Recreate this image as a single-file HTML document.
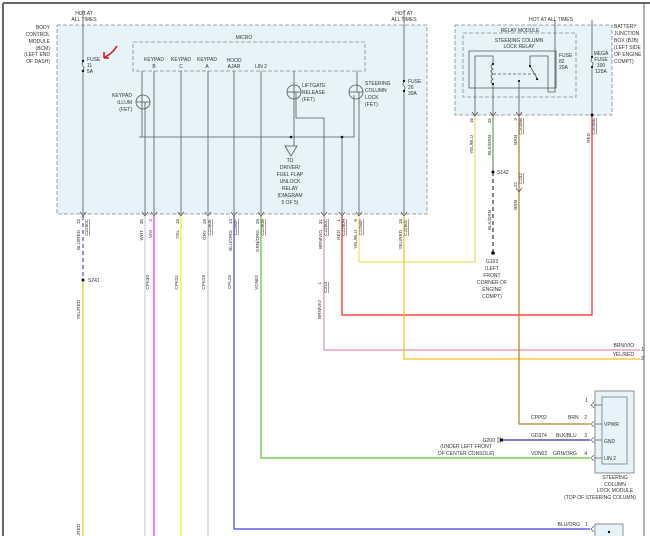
<!DOCTYPE html>
<html><head><meta charset="utf-8"><style>
html,body{margin:0;padding:0;background:#fff;}
svg{display:block;font-family:"Liberation Sans",sans-serif;font-size:5px;fill:#333;}
text{fill:#333;}
</style></head><body>
<svg width="650" height="536" viewBox="0 0 650 536" xmlns="http://www.w3.org/2000/svg">
<rect x="0" y="0" width="650" height="536" fill="#fff"/>
<!-- page border -->
<line x1="3" y1="3" x2="650" y2="3" stroke="#666" stroke-width="2"/>
<line x1="3" y1="3" x2="3" y2="536" stroke="#666" stroke-width="2"/>
<line x1="644" y1="3" x2="644" y2="536" stroke="#666" stroke-width="1"/>

<!-- BCM box -->
<rect x="57" y="25" width="370" height="189" fill="#e6f4fa" stroke="#888" stroke-dasharray="4,2" stroke-width="0.8"/>
<rect x="133" y="42" width="232" height="29" fill="#e6f4fa" stroke="#888" stroke-dasharray="4,2" stroke-width="0.8"/>
<text x="244" y="39" text-anchor="middle">MICRO</text>
<g text-anchor="middle">
<text x="84" y="15">HOT AT</text><text x="84" y="21">ALL TIMES</text>
<text x="404" y="15">HOT AT</text><text x="404" y="21">ALL TIMES</text>
</g>
<g text-anchor="end">
<text x="50" y="29">BODY</text><text x="50" y="36">CONTROL</text><text x="50" y="43">MODULE</text><text x="50" y="50">(BCM)</text><text x="50" y="56">(LEFT END</text><text x="50" y="63">OF DASH)</text>
</g>
<!-- red arrow -->
<path d="M117,46 Q112,54 105,57" stroke="#e01010" stroke-width="1.5" fill="none"/>
<path d="M104,58 L104,52 M104,58 L109,58" stroke="#e01010" stroke-width="1.5" fill="none"/>

<!-- internal wires (gray) -->
<g stroke="#555" stroke-width="0.8" fill="none">
<line x1="83" y1="25" x2="83" y2="62"/><path d="M83,62 q-2,2 0,4 q2,2 0,4"/><line x1="83" y1="70" x2="83" y2="214"/>
<line x1="83" y1="10" x2="83" y2="25"/>
<line x1="404" y1="10" x2="404" y2="82"/><path d="M404,82 q-2,2 0,4 q2,2 0,4"/><line x1="404" y1="90" x2="404" y2="214"/>
<line x1="142" y1="71" x2="142" y2="137"/>
<line x1="145" y1="102" x2="145" y2="214"/>
<line x1="154" y1="71" x2="154" y2="214"/>
<line x1="181" y1="71" x2="181" y2="214"/>
<line x1="208" y1="71" x2="208" y2="214"/>
<line x1="234" y1="71" x2="234" y2="214"/>
<line x1="261" y1="71" x2="261" y2="214"/>
<line x1="294" y1="71" x2="294" y2="146"/>
<path d="M296,92 L296,118 L324,118 L324,214"/>
<line x1="357" y1="71" x2="357" y2="92"/>
<path d="M359,92 L359,214"/>
<path d="M139,137 L354,137 L354,95"/>
<line x1="342" y1="137" x2="342" y2="214"/>
<circle cx="143" cy="102" r="7"/><line x1="136" y1="102" x2="150" y2="102"/>
<circle cx="294" cy="92" r="7"/><line x1="287" y1="92" x2="301" y2="92"/>
<circle cx="356" cy="92" r="7"/><line x1="349" y1="92" x2="363" y2="92"/>
<path d="M285,146 L297,146 L291,156 Z"/>
</g>
<circle cx="83" cy="61" r="1.2" fill="#111"/><circle cx="83" cy="71" r="1.2" fill="#111"/>
<circle cx="404" cy="81" r="1.2" fill="#111"/><circle cx="404" cy="91" r="1.2" fill="#111"/>
<circle cx="291" cy="137" r="1.3" fill="#111"/><circle cx="342" cy="137" r="1.3" fill="#111"/>
<g>
<text x="87" y="61">FUSE</text><text x="87" y="67">11</text><text x="87" y="73">5A</text>
<text x="408" y="83">FUSE</text><text x="408" y="89">26</text><text x="408" y="95">30A</text>
</g>
<g text-anchor="middle">
<text x="154" y="61">KEYPAD</text><text x="154" y="68">B</text>
<text x="181" y="61">KEYPAD</text><text x="181" y="68">C</text>
<text x="207" y="61">KEYPAD</text><text x="207" y="68">A</text>
<text x="234" y="62">HOOD</text><text x="234" y="68">AJAR</text>
<text x="261" y="68">LIN 2</text>
<text x="290" y="162">TO</text><text x="290" y="169">DRIVER/</text><text x="290" y="176">FUEL FLAP</text><text x="290" y="183">UNLOCK</text><text x="290" y="190">RELAY</text><text x="290" y="197">(DIAGRAM</text><text x="290" y="204">5 OF 5)</text>
</g>
<g text-anchor="end"><text x="132" y="97">KEYPAD</text><text x="132" y="104">ILLUM</text><text x="132" y="111">(FET)</text></g>
<text x="302" y="87">LIFTGATE</text><text x="302" y="94">RELEASE</text><text x="302" y="101">(FET)</text>
<text x="365" y="85">STEERING</text><text x="365" y="92">COLUMN</text><text x="365" y="99">LOCK</text><text x="365" y="106">(FET)</text>

<!-- connectors at bottom of BCM -->
<g stroke="#555" stroke-width="0.7" fill="none">
<path d="M80,212 L83,216 L86,212 M142,212 L145,216 L148,212 M151,212 L154,216 L157,212 M178,212 L181,216 L184,212 M205,212 L208,216 L211,212 M231,212 L234,216 L237,212 M258,212 L261,216 L264,212 M321,212 L324,216 L327,212 M339,212 L342,216 L345,212 M356,212 L359,216 L362,212 M401,212 L404,216 L407,212"/>
</g>

<!-- external wires -->
<g fill="none" stroke-width="1.2">
<line x1="83" y1="216" x2="83" y2="280" stroke="#4a4aff" stroke-dasharray="4,3"/>
<line x1="83" y1="280" x2="83" y2="536" stroke="#f0c020"/>
<line x1="145" y1="216" x2="145" y2="536" stroke="#d0d0d0"/>
<line x1="154" y1="216" x2="154" y2="536" stroke="#ff20ff"/>
<line x1="181" y1="216" x2="181" y2="536" stroke="#f0f020"/>
<line x1="208" y1="216" x2="208" y2="536" stroke="#c8c8c8"/>
<path d="M234,216 L234,529 L590,529" stroke="#4040ff"/>
<path d="M261,216 L261,458 L590,458" stroke="#60c030"/>
<path d="M324,216 L324,350 L640,350" stroke="#e890b0"/>
<path d="M342,216 L342,315 L592,315 L592,115" stroke="#ff2020"/>
<path d="M359,216 L359,262 L475,262 L475,115" stroke="#f0e060"/>
<path d="M404,216 L404,359 L640,359" stroke="#ffc010"/>
<line x1="493" y1="115" x2="493" y2="172" stroke="#60a060"/>
<line x1="493" y1="172" x2="493" y2="253" stroke="#333" stroke-dasharray="4,3"/>
<path d="M519,115 L519,424 L590,424" stroke="#b08020"/>
<line x1="502" y1="440" x2="590" y2="440" stroke="#3030b0"/>
</g>
<circle cx="83" cy="280" r="1.5" fill="#111"/><text x="88" y="282">S241</text>
<circle cx="493" cy="172" r="1.5" fill="#111"/><text x="497" y="174">S142</text>
<circle cx="493" cy="253" r="1.8" fill="#111"/>
<g text-anchor="middle"><text x="492" y="263">G103</text><text x="492" y="270">(LEFT</text><text x="492" y="277">FRONT</text><text x="492" y="284">CORNER OF</text><text x="492" y="291">ENGINE</text><text x="492" y="298">COMPT)</text></g>

<!-- rotated labels -->
<g font-size="4.6">
<g text-anchor="end">
<text transform="translate(80,219) rotate(-90)">15</text>
<text transform="translate(80,230) rotate(-90)">BLU/RED</text>
<text transform="translate(143,219) rotate(-90)">35</text><text transform="translate(143,230) rotate(-90)">WHT</text>
<text transform="translate(152,219) rotate(-90)">2</text><text transform="translate(152,230) rotate(-90)">VIO</text>
<text transform="translate(179,219) rotate(-90)">15</text><text transform="translate(179,230) rotate(-90)">YEL</text>
<text transform="translate(206,219) rotate(-90)">28</text><text transform="translate(206,230) rotate(-90)">GRY</text>
<text transform="translate(232,219) rotate(-90)">14</text><text transform="translate(232,230) rotate(-90)">BLU/ORG</text>
<text transform="translate(259,219) rotate(-90)">29</text><text transform="translate(259,230) rotate(-90)">GRN/ORG</text>
<text transform="translate(322,219) rotate(-90)">31</text><text transform="translate(322,230) rotate(-90)">BRN/VIO</text>
<text transform="translate(340,219) rotate(-90)">1</text><text transform="translate(340,230) rotate(-90)">RED</text>
<text transform="translate(357,219) rotate(-90)">9</text><text transform="translate(357,230) rotate(-90)">YEL/BLU</text>
<text transform="translate(402,219) rotate(-90)">18</text><text transform="translate(402,230) rotate(-90)">YEL/RED</text>
<text transform="translate(80,300) rotate(-90)">YEL/RED</text>
<text transform="translate(80,524) rotate(-90)">YEL/RED</text>
<text transform="translate(149,275) rotate(-90)">CPK30</text>
<text transform="translate(178,275) rotate(-90)">CPK31</text>
<text transform="translate(205,275) rotate(-90)">CPK29</text>
<text transform="translate(231,275) rotate(-90)">CPL25</text>
<text transform="translate(258,275) rotate(-90)">VDN02</text>
<text transform="translate(321,282) rotate(-90)">1</text>
<text transform="translate(321,300) rotate(-90)">BRN/VIO</text>
<text transform="translate(473,118) rotate(-90)">16</text><text transform="translate(473,135) rotate(-90)">YEL/BLU</text>
<text transform="translate(491,118) rotate(-90)">25</text><text transform="translate(491,135) rotate(-90)">BLK/GRN</text>
<text transform="translate(491,210) rotate(-90)">BLK/GRN</text>
<text transform="translate(517,118) rotate(-90)">3</text><text transform="translate(517,135) rotate(-90)">BRN</text>
<text transform="translate(517,182) rotate(-90)">22</text><text transform="translate(517,200) rotate(-90)">BRN</text>
<text transform="translate(590,133) rotate(-90)">RED</text>
</g>
<g text-decoration="underline" text-anchor="end">
<text transform="translate(88,219) rotate(-90)">C2280C</text>
<text transform="translate(211,219) rotate(-90)">C2280E</text>
<text transform="translate(237,219) rotate(-90)">C2280F</text>
<text transform="translate(264,219) rotate(-90)">C2280B</text>
<text transform="translate(327,219) rotate(-90)">C2280C</text>
<text transform="translate(345,219) rotate(-90)">C2280H</text>
<text transform="translate(362,219) rotate(-90)">C2280F</text>
<text transform="translate(407,219) rotate(-90)">C2280C</text>
<text transform="translate(327,282) rotate(-90)">C314</text>
<text transform="translate(522,118) rotate(-90)">C1035B</text>
<text transform="translate(522,173) rotate(-90)">C232</text>
<text transform="translate(595,118) rotate(-90)">C1035E</text>
</g>
</g>

<!-- Relay module / BJB -->
<rect x="455" y="25" width="157" height="90" fill="#e6f4fa" stroke="#888" stroke-dasharray="4,2" stroke-width="0.8"/>
<rect x="463" y="33" width="113" height="64" fill="none" stroke="#888" stroke-dasharray="4,2" stroke-width="0.8"/>
<g text-anchor="middle"><text x="520" y="32">RELAY MODULE</text><text x="519" y="42">STEERING COLUMN</text><text x="519" y="48">LOCK RELAY</text></g>
<text x="551" y="21" text-anchor="middle">HOT AT ALL TIMES</text>
<g stroke="#555" stroke-width="0.8" fill="none">
<path d="M469,51 L556,51 L556,88 L469,88 Z"/>
<path d="M475,115 L475,56 L493,56 L493,64 M493,84 L493,115"/>
<path d="M493,64 q-4,2.5 0,5 q-4,2.5 0,5 q-4,2.5 0,5 q-4,2.5 0,5"/>
<path d="M548,92 L555,92 L555,20 M548,92 L548,56 L530,56 L530,66 L538,80"/>
<line x1="493" y1="74" x2="538" y2="74" stroke-dasharray="3,2"/>
<line x1="519" y1="81" x2="519" y2="115"/>
<line x1="592" y1="20" x2="592" y2="58"/><path d="M592,58 q-2,2 0,4 q2,2 0,4"/><line x1="592" y1="66" x2="592" y2="115"/>
<path d="M472,112 L475,116 L478,112 M490,112 L493,116 L496,112 M516,112 L519,116 L522,112 M516,188 L519,192 L522,188"/>
</g>
<circle cx="493" cy="64" r="1.1" fill="#111"/><circle cx="493" cy="84" r="1.1" fill="#111"/>
<circle cx="530" cy="66" r="1.1" fill="#111"/><circle cx="537" cy="79" r="1.1" fill="#111"/><circle cx="519" cy="81" r="1.1" fill="#111"/>
<circle cx="592" cy="57" r="1.1" fill="#111"/><circle cx="592" cy="67" r="1.1" fill="#111"/><circle cx="592" cy="115" r="1.5" fill="#111"/>
<text x="559" y="57">FUSE</text><text x="559" y="63">82</text><text x="559" y="69">20A</text>
<g text-anchor="middle"><text x="601" y="55">MEGA</text><text x="601" y="61">FUSE</text><text x="601" y="67">100</text><text x="601" y="73">125A</text></g>
<text x="614" y="28">BATTERY</text><text x="614" y="35">JUNCTION</text><text x="614" y="42">BOX (BJB)</text><text x="614" y="49">(LEFT SIDE</text><text x="614" y="56">OF ENGINE</text><text x="614" y="63">COMPT)</text>

<!-- right side endings -->
<text x="634" y="347" text-anchor="end">BRN/VIO</text><text x="634" y="356" text-anchor="end">YEL/RED</text>
<text x="641" y="351">1</text><text x="641" y="360">2</text>

<!-- steering column lock module -->
<rect x="595" y="391" width="39" height="82" fill="#e6f4fa" stroke="#777" stroke-width="0.8"/>
<rect x="602" y="397" width="25" height="67" fill="none" stroke="#777" stroke-width="0.8"/>
<g stroke="#555" stroke-width="0.7" fill="none">
<path d="M594,402 L591,405 L594,408 M594,421 L591,424 L594,427 M594,437 L591,440 L594,443 M594,455 L591,458 L594,461 M594,526 L591,529 L594,532"/>
<line x1="594" y1="405" x2="602" y2="405"/><line x1="594" y1="424" x2="602" y2="424"/><line x1="594" y1="440" x2="602" y2="440"/><line x1="594" y1="458" x2="602" y2="458"/>
</g>
<text x="588" y="402" text-anchor="end">1</text>
<text x="604" y="426">VPWR</text><text x="604" y="443">GND</text><text x="604" y="460">LIN 2</text>
<text x="531" y="419">CPP02</text><text x="568" y="419">BRN</text><text x="587" y="419" text-anchor="end">2</text>
<text x="531" y="437">GD374</text><text x="556" y="437">BLK/BLU</text><text x="587" y="437" text-anchor="end">3</text>
<text x="531" y="455">VDN02</text><text x="553" y="455">GRN/ORG</text><text x="587" y="455" text-anchor="end">4</text>
<text x="495" y="442" text-anchor="end">G200</text>
<path d="M498,437 L498,443 M500,437 L500,443" stroke="#333" stroke-width="0.6"/><rect x="500" y="438.5" width="3" height="3" fill="#111"/>
<g text-anchor="middle"><text x="466" y="448">(UNDER LEFT FRONT</text><text x="466" y="455">OF CENTER CONSOLE)</text>
<text x="615" y="479">STEERING</text><text x="615" y="486">COLUMN</text><text x="615" y="492">LOCK MODULE</text><text x="600" y="499">(TOP OF STEERING COLUMN)</text></g>
<text x="580" y="526" text-anchor="end">BLU/ORG</text><text x="588" y="526" text-anchor="end">1</text>
<rect x="595" y="524" width="28" height="14" fill="#e6f4fa" stroke="#777" stroke-width="0.8"/>
<circle cx="609" cy="532" r="1.2" fill="#111"/>
</svg>
</body></html>
